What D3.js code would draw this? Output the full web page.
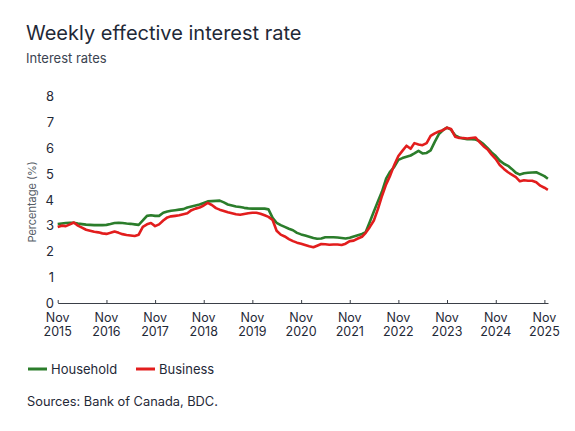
<!DOCTYPE html>
<html>
<head>
<meta charset="utf-8">
<script src="https://cdn.jsdelivr.net/npm/d3@7"></script>
<style>
  html, body { margin: 0; padding: 0; background: #fff; }
  #chart { width: 575px; height: 431px; }
</style>
</head>
<body>
<div id="chart"></div>
<script>
// monthly readings from Nov 2015, last point is the final week shown
const startMonth = '2015-11-01';
const lastWeek = '2025-11-27';

const household = [
  3.06, 3.08, 3.10, 3.11, 3.11, 3.08, 3.06, 3.04, 3.03, 3.02, 3.02, 3.02,
  3.03, 3.06, 3.10, 3.11, 3.10, 3.08, 3.07, 3.05, 3.03, 3.20, 3.38, 3.40,
  3.38, 3.38, 3.50, 3.55, 3.58, 3.60, 3.62, 3.64, 3.70, 3.74, 3.78, 3.82,
  3.88, 3.94, 3.95, 3.96, 3.97, 3.90, 3.82, 3.78, 3.74, 3.72, 3.69, 3.67,
  3.66, 3.66, 3.66, 3.66, 3.63, 3.30, 3.11, 3.02, 2.95, 2.88, 2.82, 2.72,
  2.66, 2.62, 2.57, 2.52, 2.49, 2.50, 2.55, 2.55, 2.55, 2.54, 2.52, 2.50,
  2.53, 2.58, 2.63, 2.68, 2.75, 3.15, 3.55, 3.95, 4.32, 4.82, 5.10, 5.28,
  5.55, 5.62, 5.67, 5.72, 5.80, 5.90, 5.80, 5.82, 5.92, 6.25, 6.55, 6.70,
  6.80, 6.72, 6.50, 6.42, 6.38, 6.35, 6.35, 6.34, 6.28, 6.16, 6.00, 5.84,
  5.70, 5.52, 5.40, 5.32, 5.20, 5.05, 4.98, 5.03, 5.05, 5.06, 5.07, 5.00,
  4.92, 4.82
];

const business = [
  2.95, 3.00, 2.98, 3.05, 3.12, 3.00, 2.92, 2.84, 2.80, 2.76, 2.74, 2.70,
  2.68, 2.72, 2.77, 2.72, 2.67, 2.64, 2.62, 2.60, 2.65, 2.95, 3.05, 3.10,
  2.98, 3.05, 3.20, 3.32, 3.36, 3.38, 3.40, 3.44, 3.48, 3.60, 3.66, 3.70,
  3.78, 3.88, 3.80, 3.68, 3.62, 3.57, 3.52, 3.48, 3.44, 3.42, 3.45, 3.48,
  3.50, 3.50, 3.46, 3.40, 3.34, 3.22, 2.80, 2.65, 2.58, 2.48, 2.40, 2.34,
  2.30, 2.25, 2.20, 2.16, 2.22, 2.29, 2.28, 2.26, 2.27, 2.27, 2.25, 2.30,
  2.40, 2.42, 2.50, 2.57, 2.72, 2.95, 3.20, 3.65, 4.15, 4.60, 4.95, 5.35,
  5.70, 5.90, 6.10, 5.98, 6.20, 6.15, 6.12, 6.20, 6.48, 6.58, 6.65, 6.70,
  6.80, 6.75, 6.45, 6.40, 6.40, 6.38, 6.40, 6.42, 6.25, 6.08, 5.95, 5.75,
  5.58, 5.35, 5.20, 5.07, 4.98, 4.88, 4.72, 4.76, 4.74, 4.74, 4.68, 4.55,
  4.47, 4.39
];

const yTicks = [0, 1, 2, 3, 4, 5, 6, 7, 8];
const xTickYears = [2015, 2016, 2017, 2018, 2019, 2020, 2021, 2022, 2023, 2024, 2025];

const series = [
  { name: 'Household', values: household, color: '#2b7d2b' },
  { name: 'Business', values: business, color: '#e21d1d' },
];

const W = 575, H = 431;
const INK = '#1f2937', SUB = '#3b4451';
const FONT = 'Inter, "Open Sans", sans-serif';

const parse = d3.utcParse('%Y-%m-%d');
const start = parse(startMonth);
const dates = household.map((_, i) =>
  i < household.length - 1 ? d3.utcMonth.offset(start, i) : parse(lastWeek));

const svg = d3.select('#chart').append('svg')
  .attr('width', W).attr('height', H)
  .style('display', 'block');

svg.append('text').attr('x', 26).attr('y', 40)
  .attr('font-family', FONT).attr('font-size', 20).attr('fill', INK)
  .text('Weekly effective interest rate');

svg.append('text').attr('x', 26).attr('y', 63)
  .attr('font-family', FONT).attr('font-size', 13).attr('fill', SUB)
  .text('Interest rates');

const x = d3.scaleUtc()
  .domain([start, parse('2025-11-28')])
  .range([57.7, 548]);
const y = d3.scaleLinear().domain([0, 8]).range([303, 96.7]);

// y labels, no axis line
const yAxis = svg.append('g').attr('transform', 'translate(54,0)')
  .call(d3.axisLeft(y).tickValues(yTicks).tickSize(0).tickPadding(0));
yAxis.select('.domain').remove();
yAxis.selectAll('text')
  .attr('font-family', FONT).attr('font-size', 13).attr('fill', INK);

svg.append('text')
  .attr('transform', `translate(36,${(y(0) + y(8)) / 2 + 2}) rotate(-90)`)
  .attr('text-anchor', 'middle')
  .attr('font-family', FONT).attr('font-size', 11).attr('fill', '#555c66')
  .text('Percentage (%)');

// bottom axis with ticks pointing up
const xTickDates = xTickYears.map(yr => new Date(Date.UTC(yr, 10, 1)));
const xAxis = svg.append('g').attr('transform', `translate(0,${y(0)})`)
  .call(d3.axisBottom(x).tickValues(xTickDates).tickSize(-3).tickSizeOuter(0).tickFormat(''));
xAxis.select('.domain').attr('stroke', '#3a3f47').attr('stroke-width', 1.2);
xAxis.selectAll('.tick line').attr('stroke', '#3a3f47');

const xl = svg.append('g');
xTickDates.forEach((d, i) => {
  const t = xl.append('text').attr('x', x(d)).attr('text-anchor', 'middle')
    .attr('font-family', FONT).attr('font-size', 12.5).attr('fill', INK);
  t.append('tspan').attr('x', x(d)).attr('y', y(0) + 19).text('Nov');
  t.append('tspan').attr('x', x(d)).attr('y', y(0) + 33).text(xTickYears[i]);
});

const line = d3.line()
  .x((d, i) => x(dates[i]))
  .y(d => y(d));

series.forEach(s => {
  svg.append('path').datum(s.values)
    .attr('d', line)
    .attr('fill', 'none')
    .attr('stroke', s.color)
    .attr('stroke-width', 2.6)
    .attr('stroke-linejoin', 'round');
});

// legend
const lg = svg.append('g').attr('transform', 'translate(28,369)');
let lx = 0;
series.forEach(s => {
  lg.append('line').attr('x1', lx).attr('x2', lx + 19).attr('y1', 0).attr('y2', 0)
    .attr('stroke', s.color).attr('stroke-width', 3);
  lg.append('text').attr('x', lx + 23).attr('y', 4.5)
    .attr('font-family', FONT).attr('font-size', 13).attr('fill', INK)
    .text(s.name);
  lx += 108;
});

svg.append('text').attr('x', 27).attr('y', 406)
  .attr('font-family', FONT).attr('font-size', 12.8).attr('fill', INK)
  .text('Sources: Bank of Canada, BDC.');
</script>
</body>
</html>
